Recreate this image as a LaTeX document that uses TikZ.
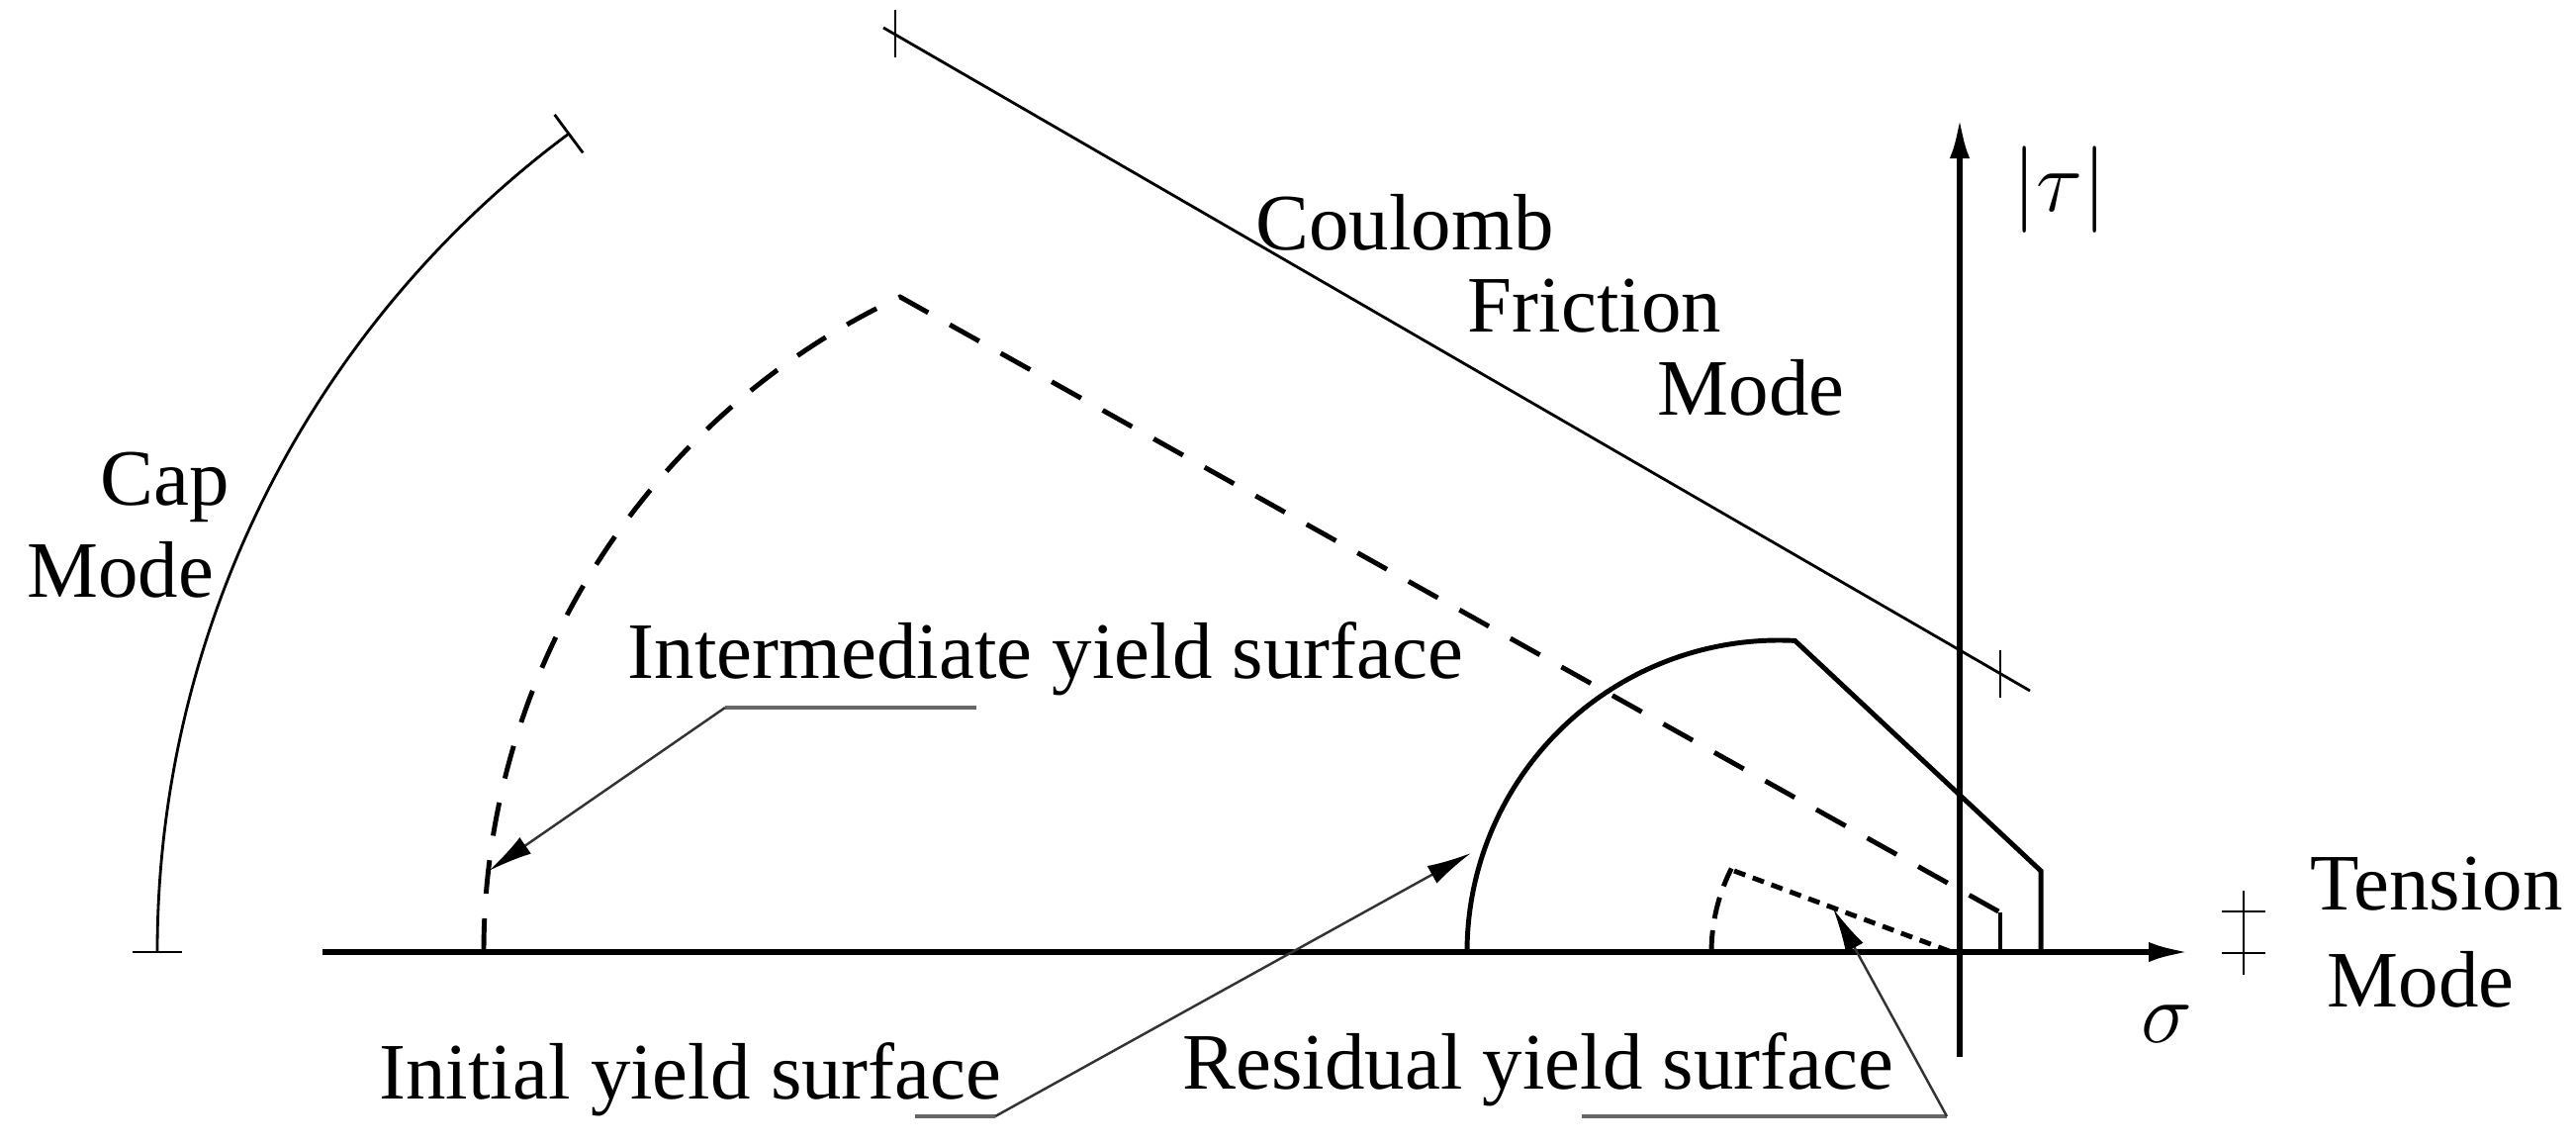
\documentclass[tikz,border=0pt]{standalone}
\usepackage{fontspec}
\setmainfont{Liberation Serif}
\usetikzlibrary{arrows.meta,calc}
\begin{document}
\begin{tikzpicture}[x=0.01cm,y=-0.01cm,
  lbl/.style={font=\fontsize{23}{27}\selectfont, inner sep=0pt},
  thin line/.style={line width=0.8pt},
  surf/.style={line width=1.4pt},
  axis/.style={line width=1.8pt,-{Latex[length=0.42cm,width=0.2cm]}},
  leader/.style={line width=0.7pt,draw=black!80,-{Latex[length=0.45cm,width=0.2cm,color=black]}},
  under/.style={line width=1pt,draw=black!60},
  dashA/.style={surf,dash pattern=on 0.34cm off 0.25cm},
  dashR/.style={surf,dash pattern=on 0.12cm off 0.08cm}]
\useasboundingbox (0,0) rectangle (2604,1158);
% axes
\coordinate (xs) at (326,962); \coordinate (xe) at (2214,962);
\coordinate (ys) at (1981,1068); \coordinate (ye) at (1981,118);
\draw[axis] (xs) -- (xe);
\draw[axis] (ys) -- (ye);
\node[lbl] (tau) at (2082,192) {$|\tau|$};
\node[lbl] (sig) at (2190,1035) {$\sigma$};
% cap mode arc
\draw[thin line] (159,962) arc[start angle=180,end angle=233.4,radius=1030];
\draw[thin line] (134,962) -- (184,962);
\draw[thin line] ($(1189,962)+(-126.6:1006)$) -- ($(1189,962)+(-126.6:1054)$);
\node[lbl] (cap) at (167,492) {Cap};
\node[lbl] (capm) at (122,576) {Mode};
% coulomb
\coordinate (c1) at (893,28); \coordinate (c2) at (2052,698);
\draw[thin line] (c1) -- (c2);
\draw[thin line] (905,10) -- (905,58);
\draw[thin line] (2022,657) -- (2022,705);
\node[lbl] (co1) at (1420,225) {Coulomb};
\node[lbl] (co2) at (1612,309) {Friction};
\node[lbl] (co3) at (1770,392) {Mode};
% tension
\draw[thin line] (2268,900) -- (2268,985);
\draw[thin line] (2246,921) -- (2290,921);
\draw[thin line] (2246,963) -- (2290,963);
\node[lbl] (t1) at (2463,893) {Tension};
\node[lbl] (t2) at (2447,990) {Mode};
% intermediate
\draw[dashA] (489,962) arc[start angle=180,end angle=244.9,radius=731] -- (2022,922);
\draw[surf] (2022,922) -- (2022,962);
% initial
\draw[surf] (1483,962) arc[start angle=180,end angle=273,radius=315] -- (2063,880) -- (2063,962);
% residual
\draw[surf,dash pattern=on 0.22cm off 0.12cm] (1730,962) arc[start angle=180,end angle=207,radius=186];
\draw[dashR] (1753,880) -- (1973,962);
% labels with leaders
\node[lbl,anchor=base] (int) at (1057,685) {Intermediate yield surface};
\coordinate (iu1) at (733,715); \coordinate (iu2) at (987,715);
\coordinate (it) at (494,880);
\draw[under] (iu2) -- (iu1);
\draw[leader] (iu1) -- (it);
\node[lbl,anchor=base] (ini) at (698,1110) {Initial yield surface};
\coordinate (nu1) at (925,1128); \coordinate (nu2) at (1006,1128);
\coordinate (nt) at (1487,862);
\draw[under] (nu1) -- (nu2);
\draw[leader] (nu2) -- (nt);
\node[lbl,anchor=base] (res) at (1555,1100) {Residual yield surface};
\coordinate (ru1) at (1599,1128); \coordinate (ru2) at (1968,1128);
\coordinate (rt) at (1853,918);
\draw[under] (ru1) -- (ru2);
\draw[leader] (ru2) -- (rt);
\end{tikzpicture}
\end{document}
